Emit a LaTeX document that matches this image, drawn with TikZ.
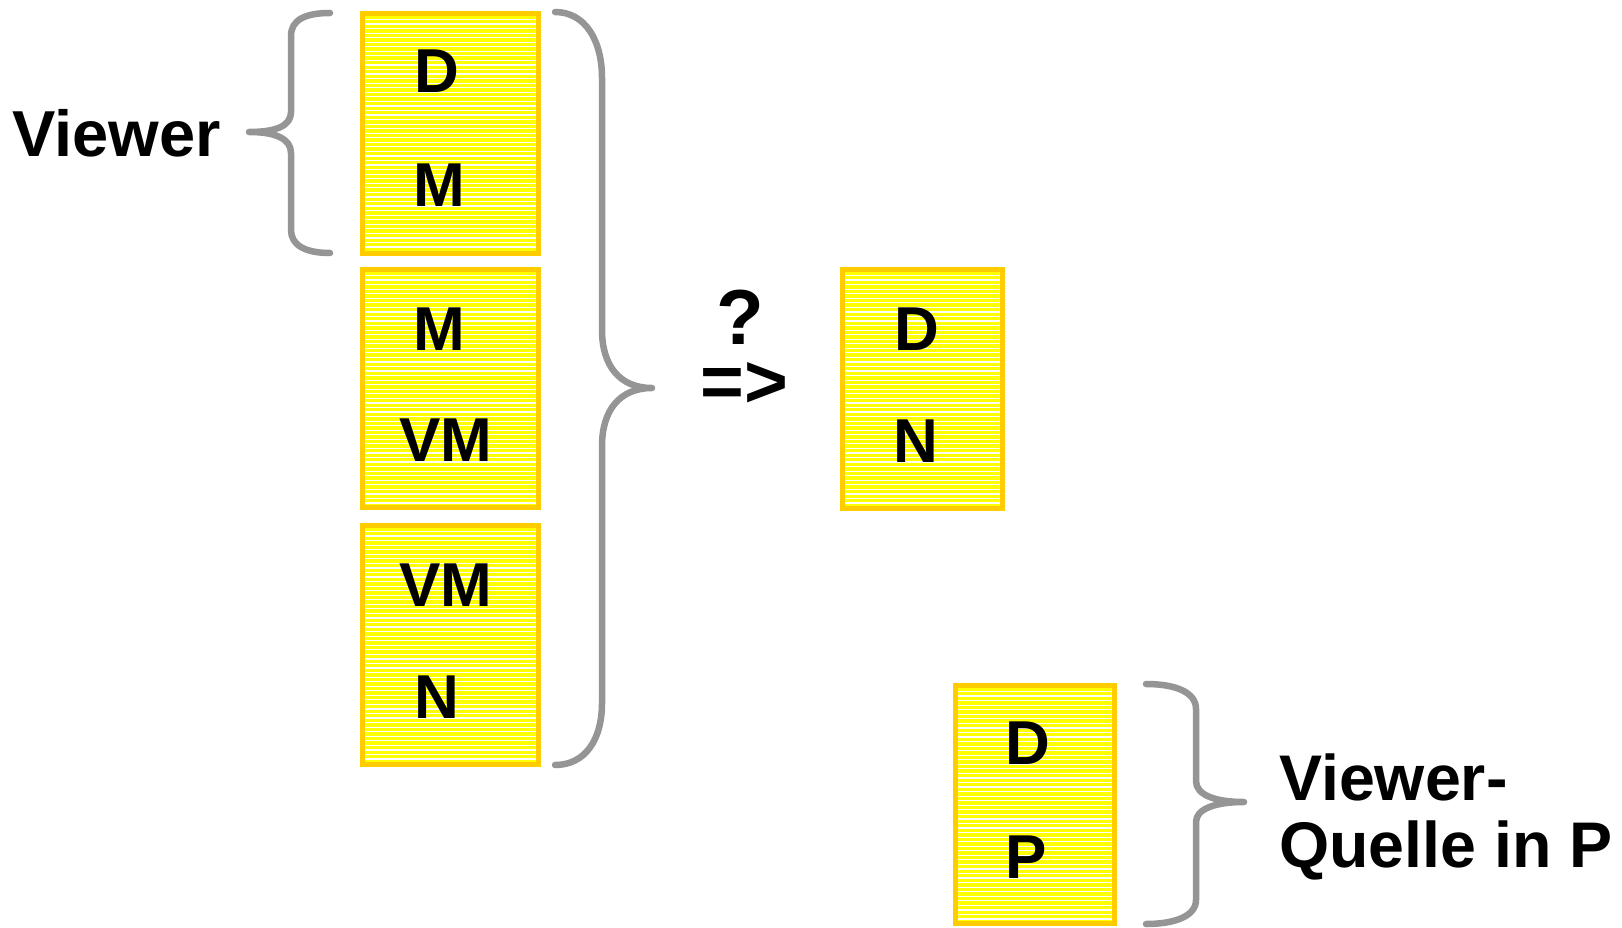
\documentclass[tikz,border=0pt]{standalone}
\usepackage{fontspec}
\setmainfont{Liberation Sans}
\definecolor{boxyellow}{HTML}{FFFF00}
\definecolor{boxborder}{HTML}{FFCC00}
\definecolor{bracegray}{HTML}{959595}
\begin{document}
\begin{tikzpicture}[x=1pt,y=-1pt,
  stripebox/.style={draw=boxborder, line width=5pt, fill=boxyellow, rectangle, inner sep=0pt,
    path picture={\foreach \k in {0,...,60}{\draw[white,line width=1.2pt] ([yshift=-\k*4.55pt-6pt]path picture bounding box.north west) -- ++(250pt,0pt);}}},
  lbl/.style={font=\bfseries\fontsize{62}{70}\selectfont, inner sep=0pt, anchor=base},
  big/.style={font=\bfseries\fontsize{65}{74}\selectfont, inner sep=0pt},
  brace/.style={draw=bracegray, line width=6.5pt, line cap=round, line join=round}]
\path[fill=white] (0,0) rectangle (1622,928);
\useasboundingbox (0,0) rectangle (1622,928);

% boxes
\node[stripebox, minimum width=176pt, minimum height=240pt] (b1) at (450.5,133.5) {};
\node[stripebox, minimum width=176pt, minimum height=238pt] (b2) at (450.5,388.5) {};
\node[stripebox, minimum width=176pt, minimum height=239pt] (b3) at (450.5,645) {};
\node[stripebox, minimum width=160pt, minimum height=239pt] (bdn) at (922.5,389) {};
\node[stripebox, minimum width=159pt, minimum height=238pt] (bdp) at (1035,804.5) {};

% letters
\node[lbl] (b1d) at (437,93) {D};
\node[lbl] (b1m) at (439.5,207) {M};
\node[lbl] (b2m) at (439.5,350) {M};
\node[lbl] (b2vm) at (446,461) {VM};
\node[lbl] (b3vm) at (446,606) {VM};
\node[lbl] (b3n) at (436.5,718) {N};
\node[lbl] (bdnd) at (916.5,350) {D};
\node[lbl] (bdnn) at (915.5,462) {N};
\node[lbl] (bdpd) at (1028,764) {D};
\node[lbl] (bdpp) at (1026,878) {P};

% texts
\node[big, anchor=base west] (viewer) at (12,157) {Viewer};
\node[font=\bfseries\fontsize{78}{80}\selectfont, inner sep=0pt, text height=55pt, text depth=0pt, anchor=base] (q) at (740,344) {?};
\node[font=\bfseries\fontsize{75}{80}\selectfont, inner sep=0pt, text height=42pt, text depth=0pt, anchor=base] (arr) at (744.5,407.5) {=>};
\node[font=\bfseries\fontsize{64.5}{74}\selectfont, inner sep=0pt, anchor=base west] (vq1) at (1279,800) {Viewer-};
\node[font=\bfseries\fontsize{64.5}{74}\selectfont, inner sep=0pt, anchor=base west] (vq2) at (1279,867) {Quelle in P};

% braces
\draw[brace] (330,13) .. controls (305,13) and (291,20) .. (291,36) -- (291,112)
  .. controls (291,126) and (276,132) .. (249,132)
  .. controls (276,132) and (291,139) .. (291,153) -- (291,230)
  .. controls (291,245) and (305,253) .. (330,253);
\draw[brace] (555,12) .. controls (585,12) and (602,40) .. (602,78) -- (602,330)
  .. controls (602,366) and (620,388) .. (652,388)
  .. controls (620,388) and (602,410) .. (602,446) -- (602,703)
  .. controls (602,740) and (585,765) .. (555,765);
\draw[brace] (1146,684) .. controls (1175,684) and (1196,692) .. (1196,709) -- (1196,781)
  .. controls (1196,795) and (1215,802) .. (1244,802)
  .. controls (1215,802) and (1196,809) .. (1196,822) -- (1196,900)
  .. controls (1196,916) and (1175,924) .. (1146,924);
\end{tikzpicture}
\end{document}
